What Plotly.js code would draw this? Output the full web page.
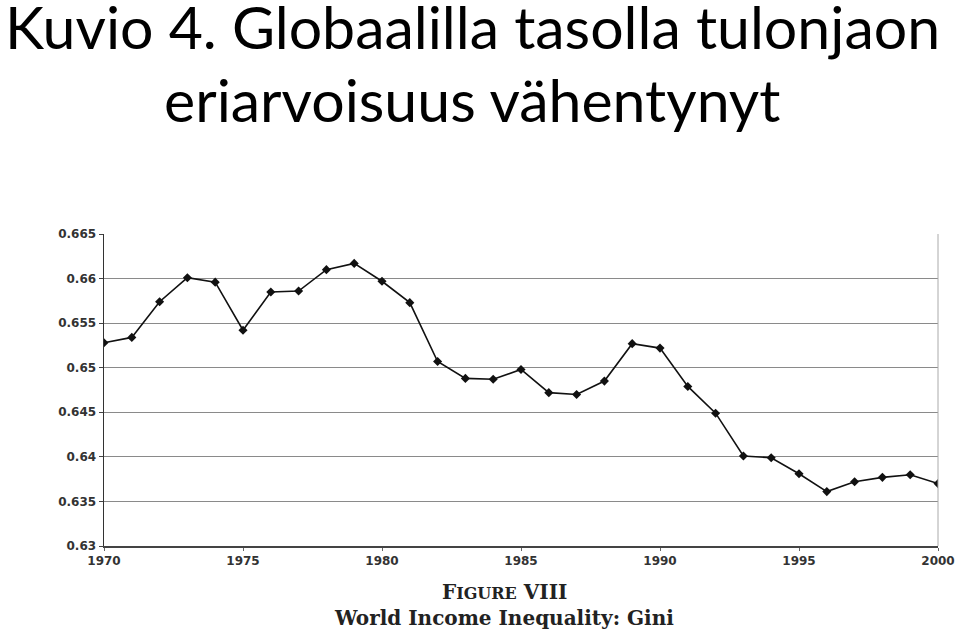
<!DOCTYPE html>
<html>
<head>
<meta charset="utf-8">
<script src="https://cdn.plot.ly/plotly-3.0.1.min.js"></script>
<style>html,body{margin:0;padding:0;background:#fff;}#chart{width:960px;height:640px;}</style>
</head>
<body>
<div id="chart"></div>
<script>
const years = [1970,1971,1972,1973,1974,1975,1976,1977,1978,1979,1980,1981,1982,1983,1984,1985,1986,1987,1988,1989,1990,1991,1992,1993,1994,1995,1996,1997,1998,1999,2000];
const gini = [0.6528,0.6534,0.6574,0.6601,0.6596,0.6542,0.6585,0.6586,0.6610,0.6617,0.6597,0.6573,0.6507,0.6488,0.6487,0.6498,0.6472,0.6470,0.6485,0.6527,0.6522,0.6479,0.6449,0.6401,0.6399,0.6381,0.6361,0.6372,0.6377,0.6380,0.6370];
const xTicks = [1970,1975,1980,1985,1990,1995,2000];
const yTicks = [0.63,0.635,0.64,0.645,0.65,0.655,0.66,0.665];
const yTickText = ["0.63","0.635","0.64","0.645","0.65","0.655","0.66","0.665"];
const titleLine1 = "Kuvio 4. Globaalilla tasolla tulonjaon";
const titleLine2 = "eriarvoisuus vähentynyt";
const captionTop = "F<span style=\"font-size:16px\">IGURE</span> VIII";
const captionBottom = "World Income Inequality: Gini";

const trace = {
  x: years, y: gini, type: 'scatter', mode: 'lines+markers',
  line: {color: '#111', width: 1.6},
  marker: {symbol: 'diamond', size: 7, color: '#111'},
  hoverinfo: 'x+y'
};

const titleFont = {family: 'Lato, "Open Sans", sans-serif', size: 59, color: '#000'};
const tickFont = {family: '"DejaVu Sans", Arial, sans-serif', size: 12, color: '#333', weight: 'bold'};
const captionFont = {family: '"DejaVu Serif", "Liberation Serif", serif', size: 20, color: '#222', weight: 'bold'};

const layout = {
  width: 960, height: 640,
  paper_bgcolor: '#fff', plot_bgcolor: '#fff',
  margin: {l: 104, r: 22, t: 234, b: 94},
  showlegend: false,
  xaxis: {
    range: [1970, 2000], tickvals: xTicks, ticktext: xTicks.map(String),
    showgrid: false, zeroline: false,
    showline: true, linecolor: '#444', linewidth: 1.5,
    ticks: 'outside', ticklen: 3, tickcolor: '#666',
    tickfont: tickFont
  },
  yaxis: {
    range: [0.63, 0.665], tickvals: yTicks, ticktext: yTickText,
    showgrid: true, gridcolor: '#8a8a8a', gridwidth: 1,
    zeroline: false,
    showline: true, linecolor: '#333', linewidth: 1.5,
    ticks: 'outside', ticklen: 4, tickcolor: '#444',
    tickfont: tickFont
  },
  shapes: [
    {type: 'line', xref: 'paper', yref: 'paper', x0: 1, x1: 1, y0: 0, y1: 1, line: {color: '#aaa', width: 1}}
  ],
  annotations: [
    {text: titleLine1, xref: 'paper', yref: 'paper', x: (472-104)/834, y: (546-27)/312, xanchor: 'center', yanchor: 'middle', showarrow: false, font: titleFont},
    {text: titleLine2, xref: 'paper', yref: 'paper', x: (472-104)/834, y: (546-99)/312, xanchor: 'center', yanchor: 'middle', showarrow: false, font: titleFont},
    {text: captionTop, xref: 'paper', yref: 'paper', x: 0.48, y: -0.147, xanchor: 'center', yanchor: 'middle', showarrow: false, font: captionFont},
    {text: captionBottom, xref: 'paper', yref: 'paper', x: 0.48, y: -0.231, xanchor: 'center', yanchor: 'middle', showarrow: false, font: captionFont}
  ]
};

Plotly.newPlot('chart', [trace], layout, {staticPlot: true, displayModeBar: false});
</script>
</body>
</html>
